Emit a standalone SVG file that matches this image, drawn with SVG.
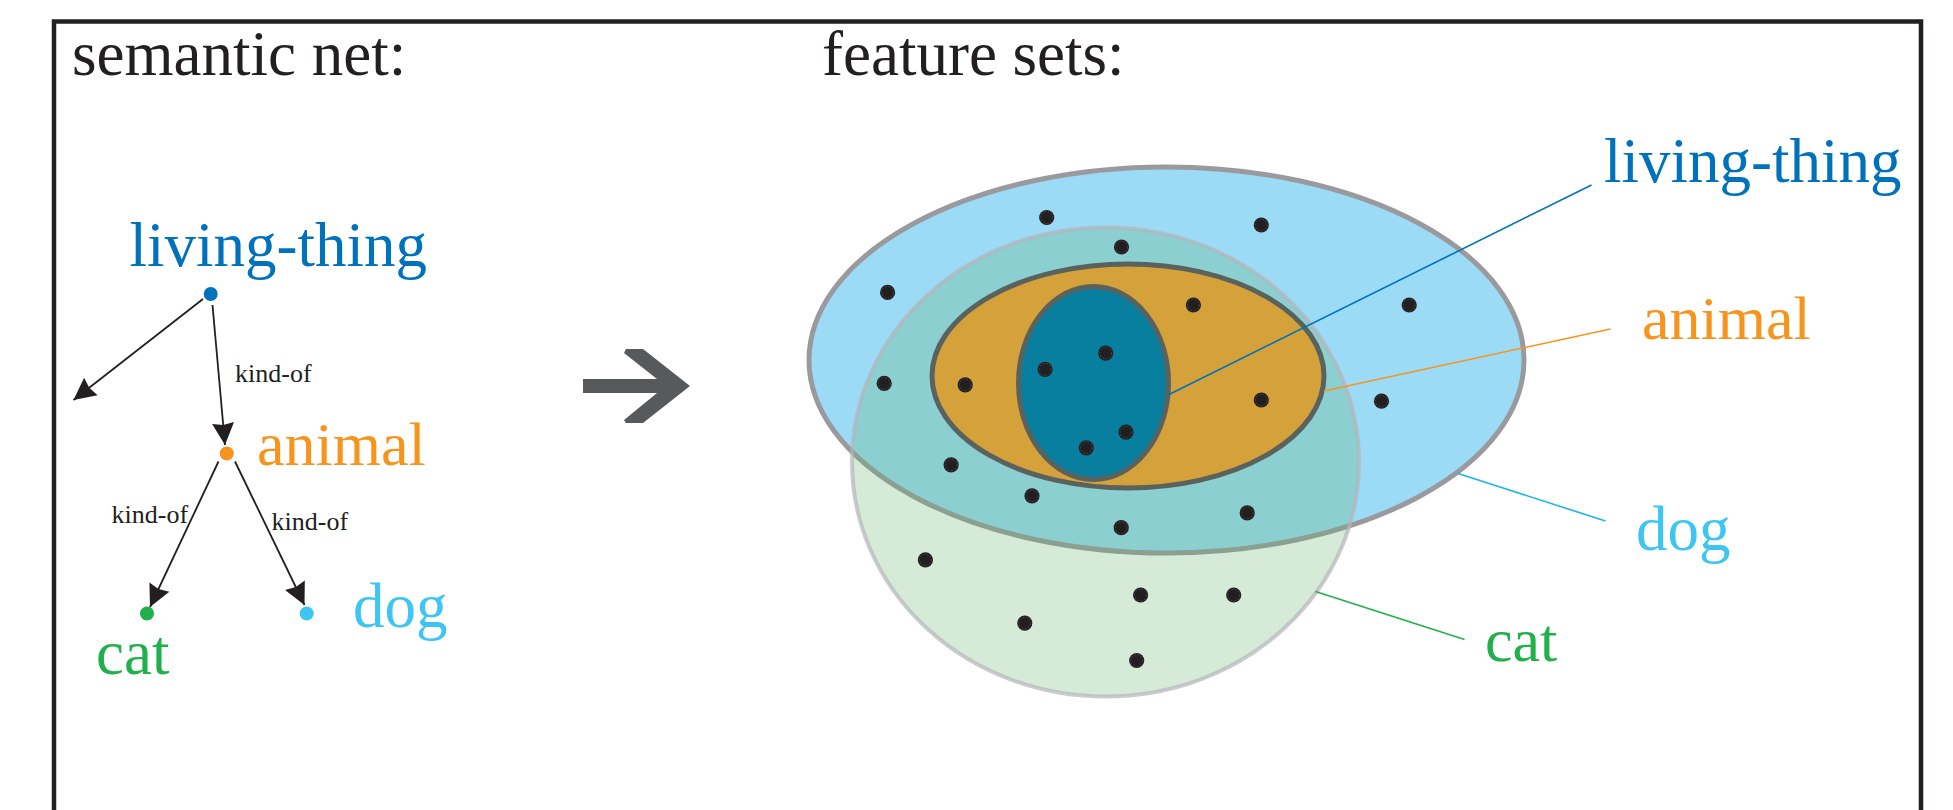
<svg xmlns="http://www.w3.org/2000/svg" xmlns:xlink="http://www.w3.org/1999/xlink" width="1953" height="810" viewBox="0 0 1953 810">
  <style>
    .t { font-family: "Liberation Serif", "Times New Roman", serif; }
    .head { font-size: 63px; fill: #231F20; }
    .lbl { font-size: 63px; }
    .small { font-size: 26px; fill: #231F20; }
    .blue { fill: #0072BC; }
    .orange { fill: #F7941D; }
    .lblue { fill: #3FC5F2; }
    .green { fill: #21B04B; }
    .edge { stroke: #231F20; stroke-width: 1.8; fill: none; marker-end: url(#ah); }
    .leader { stroke-width: 1.6; fill: none; }
  </style>
  <defs>
    <marker id="ah" markerUnits="userSpaceOnUse" markerWidth="26" markerHeight="26" viewBox="-24 -13 26 26" refX="0" refY="0" orient="auto">
      <path d="M0,0 L-22,-11 L-20,0 L-22,11 Z" fill="#231F20"/>
    </marker>
    <g id="dot">
      <circle r="7.6" fill="#231F20"/>
      <circle r="5.9" fill="none" stroke="#5c5c5f" stroke-width="0.6" stroke-dasharray="2 1.5"/>
    </g>
  </defs>

  <rect x="54" y="21.5" width="1867" height="900" fill="#FFFFFF" stroke="#231F20" stroke-width="4.5"/>

  <text class="t head" x="72" y="75">semantic net:</text>
  <text class="t head" x="822" y="75">feature sets:</text>

  <!-- semantic net connectors -->
  <g id="net-connectors">
    <line class="edge" x1="203" y1="299" x2="73.5" y2="400"/>
    <line class="edge" x1="212.5" y1="305" x2="225" y2="445"/>
    <line class="edge" x1="218.5" y1="461.5" x2="150" y2="607"/>
    <line class="edge" x1="235" y1="461.5" x2="304.5" y2="605"/>
    <text class="t small" x="235" y="382">kind-of</text>
    <text class="t small" x="111.5" y="523">kind-of</text>
    <text class="t small" x="271.5" y="529.5">kind-of</text>
  </g>

  <!-- semantic net nodes -->
  <g id="net-living-thing">
    <circle cx="210.7" cy="294" r="7" fill="#0072BC"/>
    <text class="t lbl blue" x="129.5" y="266">living-thing</text>
  </g>
  <g id="net-animal">
    <circle cx="226.8" cy="453.5" r="7" fill="#F7941D"/>
    <text class="t lbl orange" x="257" y="465" style="font-size:62px">animal</text>
  </g>
  <g id="net-cat">
    <circle cx="147" cy="613.5" r="7" fill="#21B04B"/>
    <text class="t lbl green" x="96" y="674">cat</text>
  </g>
  <g id="net-dog">
    <circle cx="306.7" cy="613.5" r="7" fill="#3FC5F2"/>
    <text class="t lbl lblue" x="353" y="627">dog</text>
  </g>

  <!-- big transition arrow -->
  <polygon id="transition-arrow" fill="#58595B" points="583,379 657,379 624,353 626,349 643,349 690,386 643,423 626,423 624,420 657,393 583,393"/>

  <!-- feature sets -->
  <g id="set-dog">
    <ellipse cx="1166.5" cy="360" rx="357.5" ry="193" fill="#9BDBF6" stroke="#9A9A9E" stroke-width="5"/>
  </g>
  <g id="set-cat">
    <ellipse cx="1105.5" cy="462" rx="253.5" ry="234.5" fill="#63B16B" fill-opacity="0.27"/>
    <ellipse cx="1105.5" cy="462" rx="253.5" ry="234.5" fill="none" stroke="#B4B5BA" stroke-opacity="0.7" stroke-width="4"/>
  </g>
  <g id="set-animal">
    <ellipse cx="1128" cy="376" rx="196" ry="112" fill="#D4A13A" stroke="#5A625E" stroke-width="5"/>
  </g>
  <g id="set-living-thing">
    <ellipse cx="1093.5" cy="383" rx="75" ry="96.5" fill="#097F9F" stroke="#5A625E" stroke-width="5"/>
  </g>

  <g id="features">
    <use xlink:href="#dot" x="1046.7" y="217.5"/>
    <use xlink:href="#dot" x="1261.3" y="225"/>
    <use xlink:href="#dot" x="1121.5" y="247"/>
    <use xlink:href="#dot" x="887.6" y="292.4"/>
    <use xlink:href="#dot" x="1193.4" y="305"/>
    <use xlink:href="#dot" x="1409.2" y="305"/>
    <use xlink:href="#dot" x="884.2" y="383.4"/>
    <use xlink:href="#dot" x="965.2" y="384.9"/>
    <use xlink:href="#dot" x="1045.1" y="369.3"/>
    <use xlink:href="#dot" x="1105.7" y="353.1"/>
    <use xlink:href="#dot" x="1261.3" y="400"/>
    <use xlink:href="#dot" x="1381.5" y="401.2"/>
    <use xlink:href="#dot" x="1126" y="432.2"/>
    <use xlink:href="#dot" x="1086.3" y="447.8"/>
    <use xlink:href="#dot" x="951.1" y="464.8"/>
    <use xlink:href="#dot" x="1032" y="495.8"/>
    <use xlink:href="#dot" x="1247.2" y="512.9"/>
    <use xlink:href="#dot" x="1121.2" y="527.7"/>
    <use xlink:href="#dot" x="925.4" y="559.9"/>
    <use xlink:href="#dot" x="1140.6" y="595"/>
    <use xlink:href="#dot" x="1233.7" y="595"/>
    <use xlink:href="#dot" x="1024.8" y="623.1"/>
    <use xlink:href="#dot" x="1136.7" y="660.5"/>
  </g>

  <!-- leader lines -->
  <g id="leaders">
    <line class="leader" stroke="#0072BC" x1="1168" y1="395" x2="1591.5" y2="185"/>
    <line class="leader" stroke="#F7941D" x1="1324" y1="391" x2="1610.5" y2="329"/>
    <line class="leader" stroke="#1CB4EC" x1="1458" y1="473.5" x2="1605.5" y2="521"/>
    <line class="leader" stroke="#21B04B" x1="1315.5" y1="591.5" x2="1464.5" y2="639.5"/>
  </g>

  <g id="set-labels">
    <text class="t lbl blue" x="1604" y="182">living-thing</text>
    <text class="t lbl orange" x="1642" y="339" style="font-size:62px">animal</text>
    <text class="t lbl lblue" x="1636" y="550">dog</text>
    <text class="t lbl green" x="1485" y="661" style="font-size:62px">cat</text>
  </g>
</svg>
